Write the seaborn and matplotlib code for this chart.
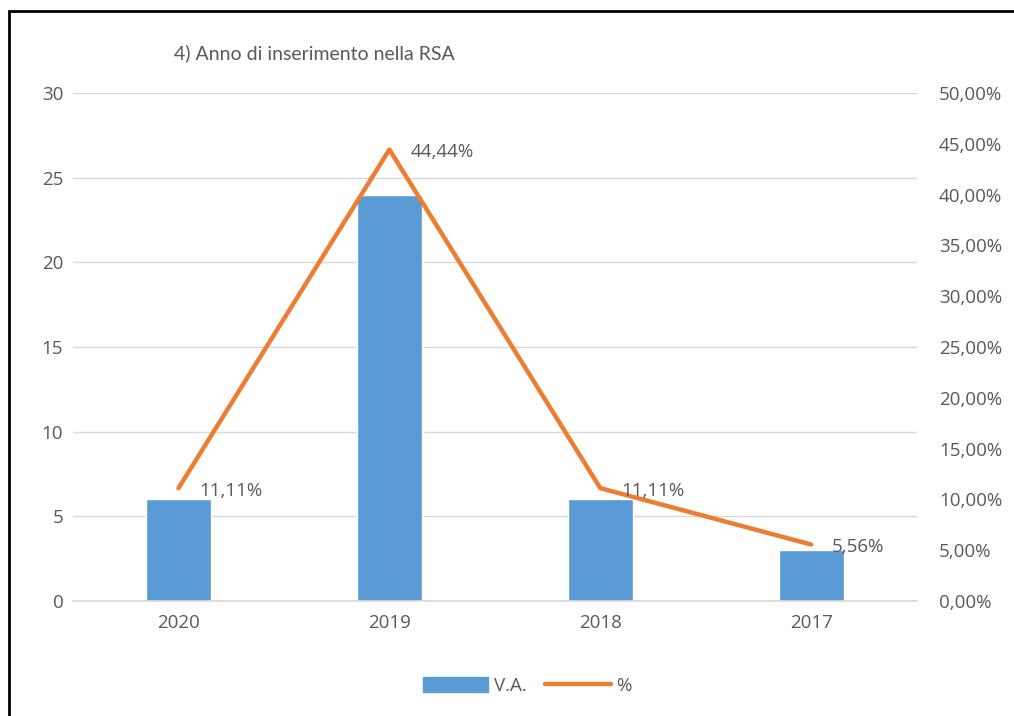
import numpy as np
import pandas as pd
import seaborn as sns
import matplotlib.pyplot as plt
from matplotlib.patches import Rectangle
from matplotlib.lines import Line2D
from matplotlib.ticker import FuncFormatter

# ──────────────────────────────
# Data
# ──────────────────────────────
years = ["2020", "2019", "2018", "2017"]
va_counts = [6, 24, 6, 3]
pct_values = [11.11, 44.44, 11.11, 5.56]

BLUE = "#5B9BD5"
ORANGE = "#ED7D31"
TEXT = "#595959"
GRID = "#D9D9D9"

sns.set_theme(style="white")
plt.rcParams["font.family"] = ["Open Sans", "DejaVu Sans"]

df = pd.DataFrame({"anno": years, "va": va_counts, "pct": pct_values})
df["pos"] = np.arange(len(df))

fig = plt.figure(figsize=(10.14, 7.16), dpi=100)
ax = fig.add_axes([0.072, 0.1606, 0.832, 0.7094])

# bars (left axis)
sns.barplot(data=df, x="anno", y="va", color=BLUE, width=0.31,
            saturation=1, ax=ax, zorder=2)
ax.set_ylim(0, 30)
ax.set_yticks(range(0, 31, 5))
ax.set_xlim(-0.5, len(years) - 0.5)
ax.yaxis.grid(True, color=GRID, linewidth=1)
ax.set_axisbelow(True)
ax.set_xlabel("")
ax.set_ylabel("")
for s in ax.spines.values():
    s.set_visible(False)
ax.spines["bottom"].set_visible(True)
ax.spines["bottom"].set_color(GRID)
ax.tick_params(axis="both", length=0, labelsize=13.5, labelcolor=TEXT)
ax.tick_params(axis="y", pad=7)
ax.tick_params(axis="x", pad=9)

# line (right axis)
ax2 = ax.twinx()
sns.lineplot(data=df, x="pos", y="pct", color=ORANGE, linewidth=3.2,
             ax=ax2, zorder=3)
ax2.set_ylim(0, 50)
ax2.set_yticks(range(0, 51, 5))
ax2.yaxis.set_major_formatter(FuncFormatter(lambda v, _: f"{v:.2f}%".replace(".", ",")))
ax2.set_xlim(-0.5, len(years) - 0.5)
ax2.set_xlabel("")
ax2.set_ylabel("")
for s in ax2.spines.values():
    s.set_visible(False)
ax2.tick_params(axis="y", length=0, labelsize=13.5, labelcolor=TEXT, pad=16)

for x, v in zip(df["pos"], pct_values):
    ax2.annotate(f"{v:.2f}%".replace(".", ","), (x, v), xytext=(15, -2),
                 textcoords="offset points", va="center", ha="left",
                 fontsize=13.5, color=TEXT, zorder=4)

# title
fig.text(0.172, 0.918, "4) Anno di inserimento nella RSA", fontsize=14,
         color=TEXT, family=["Lato", "DejaVu Sans"])

# legend
handles = [Rectangle((0, 0), 1, 1, color=BLUE),
           Line2D([0], [0], color=ORANGE, linewidth=3.2, solid_capstyle="round")]
fig.legend(handles, ["V.A.", "%"], loc="center", bbox_to_anchor=(0.52, 0.042),
           ncol=2, frameon=False, fontsize=13.5, labelcolor=TEXT,
           handlelength=3.5, handleheight=0.9, columnspacing=1.0, handletextpad=0.3)

# outer frame (right and bottom edges fall outside the image)
fig.patches.append(Rectangle((0.009, -0.05), 1.05, 1.034, transform=fig.transFigure,
                             fill=False, edgecolor="black", linewidth=2))

fig.savefig("out.png", dpi=100)
